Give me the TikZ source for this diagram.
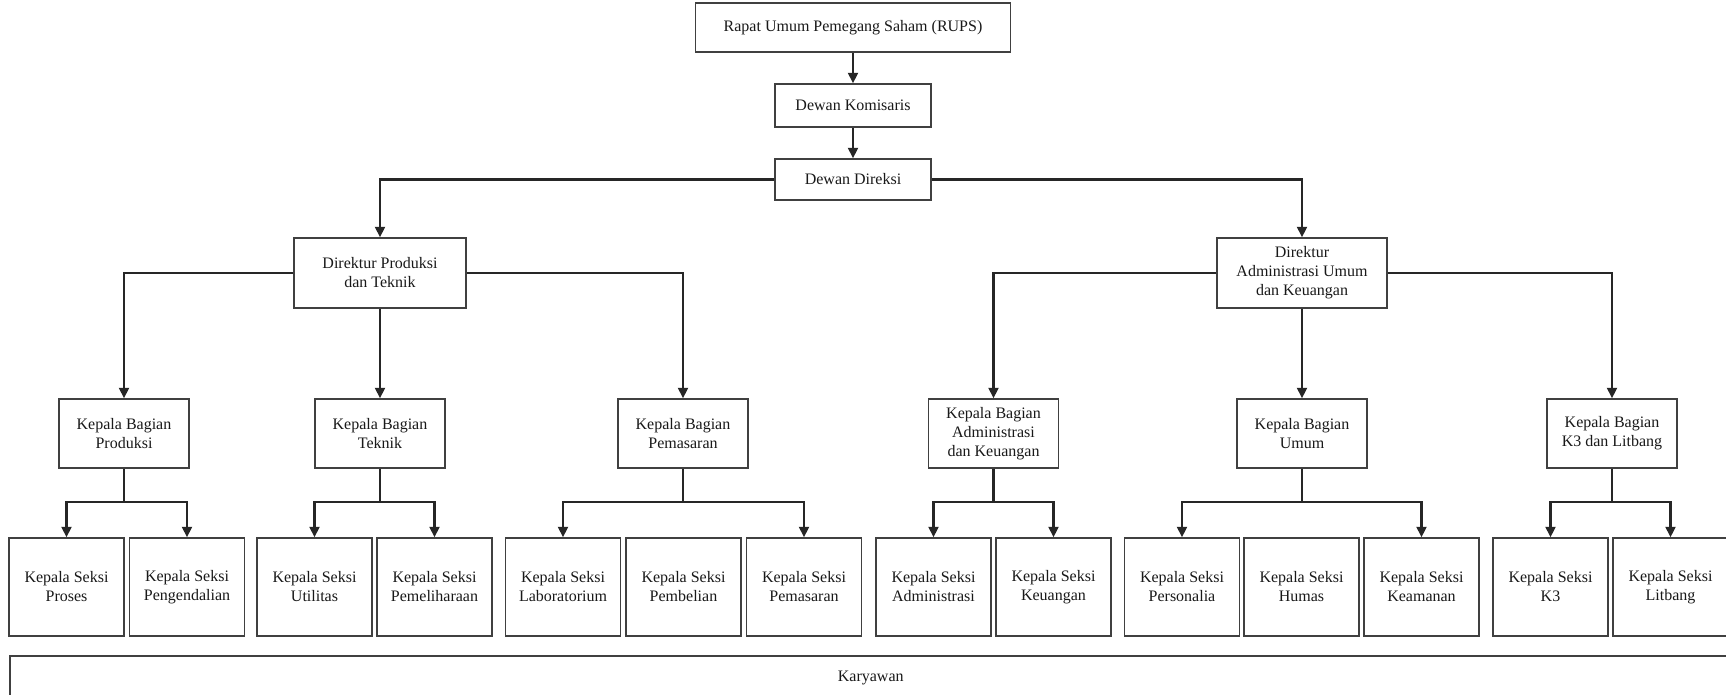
\documentclass[tikz,border=0pt]{standalone}
\usepackage{fontspec}
\setmainfont{Liberation Serif}
\usetikzlibrary{arrows.meta}
\begin{document}
\begin{tikzpicture}[x=1pt,y=-1pt,
  orgbox/.style={draw=black!75, line width=1.5pt, fill=white, align=center,
    inner sep=0pt, font=\fontsize{16}{19}\selectfont, text=black!90},
  kabag/.style={orgbox, minimum width=130pt, minimum height=69pt},
  kasi/.style={orgbox, minimum width=115pt, minimum height=98pt},
  link/.style={line width=2.2pt, draw=black!85},
  arr/.style={link, -{Triangle[width=10pt,length=10.5pt]}}]
\useasboundingbox (0,0) rectangle (1726,694);
\clip (0,0) rectangle (1726,694);

% top management
\node[orgbox, minimum width=315pt, minimum height=49pt] (rups) at (853,27.5) {Rapat Umum Pemegang Saham (RUPS)};
\node[orgbox, minimum width=156pt, minimum height=43pt] (kom) at (853,105.5) {Dewan Komisaris};
\node[orgbox, minimum width=156pt, minimum height=41pt] (dir) at (853,179.5) {Dewan Direksi};

% directors
\node[orgbox, minimum width=172pt, minimum height=70pt] (dp) at (380,273) {Direktur Produksi\\dan Teknik};
\node[orgbox, minimum width=170pt, minimum height=70pt] (da) at (1302,273) {Direktur\\Administrasi Umum\\dan Keuangan};

% heads of department
\node[kabag] (kbp) at (124,433.5) {Kepala Bagian\\Produksi};
\node[kabag] (kbt) at (380,433.5) {Kepala Bagian\\Teknik};
\node[kabag] (kbm) at (683,433.5) {Kepala Bagian\\Pemasaran};
\node[kabag] (kba) at (993.5,433.5) {Kepala Bagian\\Administrasi\\dan Keuangan};
\node[kabag] (kbu) at (1302,433.5) {Kepala Bagian\\Umum};
\node[kabag] (kbk) at (1612,433.5) {Kepala Bagian\\K3 dan Litbang};

% heads of section
\node[kasi] (s1) at (66.5,587) {Kepala Seksi\\Proses};
\node[kasi] (s2) at (187,587) {Kepala Seksi\\Pengendalian};
\node[kasi] (s3) at (314.5,587) {Kepala Seksi\\Utilitas};
\node[kasi] (s4) at (434.5,587) {Kepala Seksi\\Pemeliharaan};
\node[kasi] (s5) at (563,587) {Kepala Seksi\\Laboratorium};
\node[kasi] (s6) at (683.5,587) {Kepala Seksi\\Pembelian};
\node[kasi] (s7) at (804,587) {Kepala Seksi\\Pemasaran};
\node[kasi] (s8) at (933.5,587) {Kepala Seksi\\Administrasi};
\node[kasi] (s9) at (1053.5,587) {Kepala Seksi\\Keuangan};
\node[kasi] (s10) at (1182,587) {Kepala Seksi\\Personalia};
\node[kasi] (s11) at (1301.5,587) {Kepala Seksi\\Humas};
\node[kasi] (s12) at (1421.5,587) {Kepala Seksi\\Keamanan};
\node[kasi] (s13) at (1550.5,587) {Kepala Seksi\\K3};
\node[kasi] (s14) at (1670.5,587) {Kepala Seksi\\Litbang};

% staff
\node[orgbox, minimum width=1722pt, minimum height=46pt, anchor=north west] (kary) at (9,655) {\raisebox{6pt}{Karyawan}};

% upper connectors
\draw[arr] (rups) -- (kom);
\draw[arr] (kom) -- (dir);
\draw[arr] (dir.west) -| (dp.north);
\draw[arr] (dir.east) -| (da.north);
\draw[arr] (dp.west) -| (kbp.north);
\draw[arr] (dp) -- (kbt);
\draw[arr] (dp.east) -| (kbm.north);
\draw[arr] (da.west) -| (kba.north);
\draw[arr] (da) -- (kbu);
\draw[arr] (da.east) -| (kbk.north);

% branch points below each head of department
\coordinate (jp) at (124,502);
\coordinate (jt) at (380,502);
\coordinate (jm) at (683,502);
\coordinate (ja) at (993.5,502);
\coordinate (ju) at (1302,502);
\coordinate (jk) at (1612,502);

\draw[link] (kbp) -- (jp);
\draw[link] (kbt) -- (jt);
\draw[link] (kbm) -- (jm);
\draw[link] (kba) -- (ja);
\draw[link] (kbu) -- (ju);
\draw[link] (kbk) -- (jk);

\draw[arr] (jp) -| (s1.north);
\draw[arr] (jp) -| (s2.north);
\draw[arr] (jt) -| (s3.north);
\draw[arr] (jt) -| (s4.north);
\draw[arr] (jm) -| (s5.north);
\draw[arr] (jm) -| (s7.north);
\draw[arr] (ja) -| (s8.north);
\draw[arr] (ja) -| (s9.north);
\draw[arr] (ju) -| (s10.north);
\draw[arr] (ju) -| (s12.north);
\draw[arr] (jk) -| (s13.north);
\draw[arr] (jk) -| (s14.north);
\end{tikzpicture}
\end{document}
